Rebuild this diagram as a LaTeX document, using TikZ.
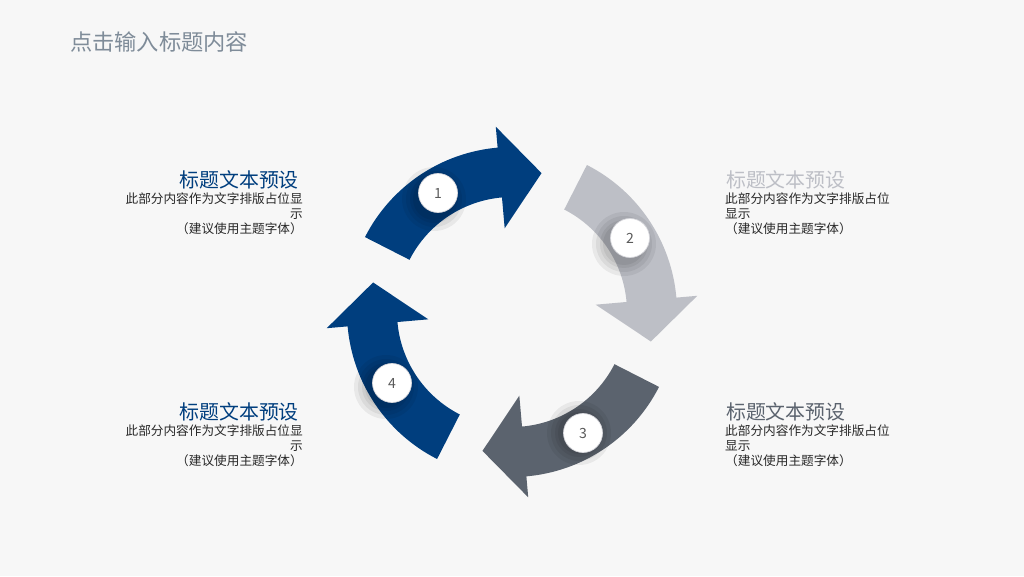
\documentclass[tikz,border=0pt]{standalone}
\usepackage{fontspec}
\setmainfont{Noto Sans CJK SC}
\definecolor{cbg}{RGB}{247,247,247}
\definecolor{cblue}{RGB}{0,62,126}
\definecolor{clg}{RGB}{189,191,198}
\definecolor{cdg}{RGB}{91,99,110}
\definecolor{cbord}{RGB}{215,215,220}
\definecolor{cnum}{RGB}{90,90,90}
\definecolor{ctitle}{RGB}{127,140,153}
\definecolor{cbody}{RGB}{40,40,40}
\begin{document}
\begin{tikzpicture}[x=0.03cm,y=0.03cm,
  blue/.style={fill=cblue},
  lgrey/.style={fill=clg},
  dgrey/.style={fill=cdg},
  num/.style={circle,draw=cbord,line width=0.6pt,fill=white,minimum size=1.17cm,inner sep=0pt,font=\fontsize{12}{12}\selectfont,text=cnum},
  head/.style={font=\fontsize{17}{19}\selectfont},
  body/.style={font=\fontsize{10.8}{12.8}\selectfont,text=cbody,inner sep=0pt}]
\fill[cbg] (0,0) rectangle (1024,576);
\useasboundingbox (0,0) rectangle (1024,576);
\node[anchor=west,font=\fontsize{19}{21}\selectfont,text=ctitle] (title) at (66,534) {点击输入标题内容};
\begin{scope}[shift={(512,264)}]
\foreach \a/\s in {0/blue,-90/lgrey,-180/dgrey,-270/blue}{
 \fill[\s,rotate=\a] (153:115) arc[start angle=153,end angle=95,radius=115] -- (95:84) -- (78:142) -- (95:186) -- (95:165) arc[start angle=95,end angle=153,radius=165] -- cycle;
}
\end{scope}
\foreach \x/\y/\dx/\dy in {438/383/-4/-6, 630/338/-6/-6, 583/143/-4/0, 392/193/-6/-4}{
  \foreach \r in {32,28,24,21}{
    \fill[black,opacity=0.06] (\x+\dx,\y+\dy) circle (\r);
  }
}
\node[num] (n1) at (438,383) {1};
\node[num] (n2) at (630,338) {2};
\node[num] (n3) at (583,143) {3};
\node[num] (n4) at (392,193) {4};
\node[head,anchor=east,text=cblue] (h1) at (303,396) {标题文本预设};
\node[body,anchor=north east,align=right] (b1) at (303,383) {此部分内容作为文字排版占位显\\示\\（建议使用主题字体）};
\node[head,anchor=east,text=cblue] (h4) at (303,164) {标题文本预设};
\node[body,anchor=north east,align=right] (b4) at (303,151) {此部分内容作为文字排版占位显\\示\\（建议使用主题字体）};
\node[head,anchor=west,text=clg] (h2) at (722,396) {标题文本预设};
\node[body,anchor=north west,align=left] (b2) at (725,383) {此部分内容作为文字排版占位\\显示\\（建议使用主题字体）};
\node[head,anchor=west,text=cdg] (h3) at (722,164) {标题文本预设};
\node[body,anchor=north west,align=left] (b3) at (725,151) {此部分内容作为文字排版占位\\显示\\（建议使用主题字体）};
\end{tikzpicture}
\end{document}
